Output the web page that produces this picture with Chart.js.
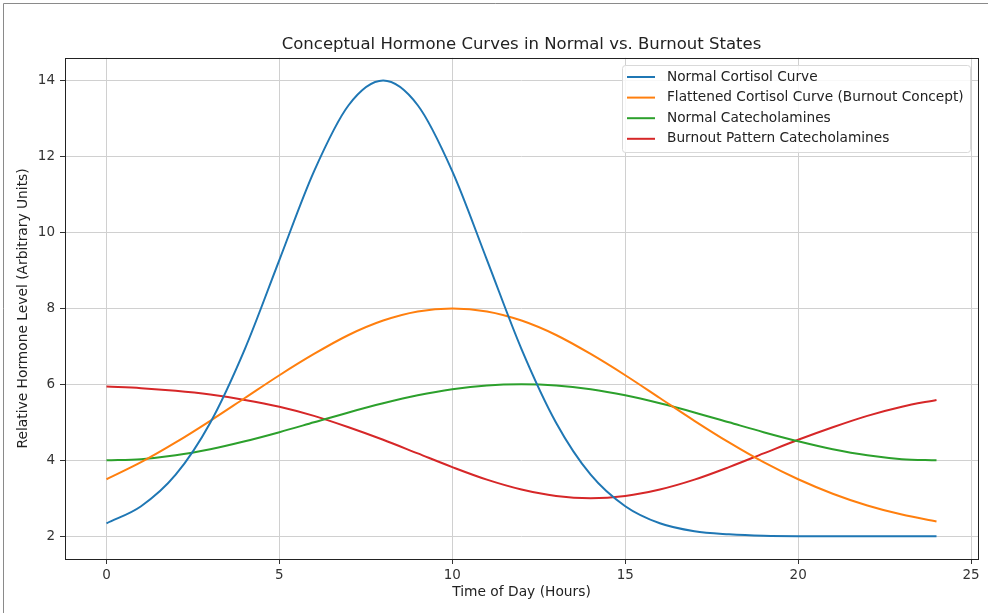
<!DOCTYPE html>
<html>
<head>
<meta charset="utf-8">
<script src="https://cdn.jsdelivr.net/npm/chart.js@4.4.1/dist/chart.umd.min.js"></script>
<style>
  body { margin: 0; background: #fff; }
  #wrap { width: 988px; height: 613px; }
</style>
</head>
<body>
<div id="wrap"><canvas id="myChart1" width="988" height="613"></canvas></div>
<script>
// values, one per hour
var hours = [0,1,2,3,4,5,6,7,8,9,10,11,12,13,14,15,16,17,18,19,20,21,22,23,24];
var normalCortisol = [2.34,2.79,3.62,4.99,6.93,9.28,11.61,13.35,14.0,13.35,11.61,9.28,6.93,4.99,3.62,2.79,2.34,2.13,2.05,2.01,2.0,2.0,2.0,2.0,2.0];
var flattenedCortisol = [3.50,3.95,4.47,5.04,5.64,6.24,6.80,7.30,7.68,7.92,8.0,7.92,7.68,7.30,6.80,6.24,5.64,5.04,4.47,3.95,3.50,3.12,2.81,2.57,2.39];
var normalCatecholamines = [4.0,4.03,4.13,4.29,4.50,4.74,5.0,5.26,5.50,5.71,5.87,5.97,6.0,5.97,5.87,5.71,5.50,5.26,5.0,4.74,4.50,4.29,4.13,4.03,4.0];
var burnoutCatecholamines = [5.94,5.90,5.83,5.73,5.59,5.41,5.17,4.87,4.54,4.18,3.82,3.49,3.23,3.06,3.0,3.06,3.23,3.49,3.82,4.18,4.54,4.87,5.17,5.41,5.59];
var seriesLabels = ["Normal Cortisol Curve", "Flattened Cortisol Curve (Burnout Concept)", "Normal Catecholamines", "Burnout Pattern Catecholamines"];
var xTicks = [0,5,10,15,20,25];
var yTicks = [2,4,6,8,10,12,14];

var colors = ['#1f77b4', '#ff7f0e', '#2ca02c', '#d62728'];
var font = "'DejaVu Sans', sans-serif";

function toPoints(vals) {
  return vals.map(function (v, i) { return {x: hours[i], y: v}; });
}

var series = [normalCortisol, flattenedCortisol, normalCatecholamines, burnoutCatecholamines];
var datasets = series.map(function (vals, i) {
  return {
    label: seriesLabels[i],
    data: toPoints(vals),
    borderColor: colors[i],
    backgroundColor: colors[i],
    borderWidth: 2,
    pointRadius: 0,
    cubicInterpolationMode: 'monotone',
    fill: false
  };
});

// outer frame, box around the axes and the legend box
var framePlugin = {
  id: 'frame',
  beforeDraw: function (chart) {
    var c = chart.ctx;
    c.save();
    c.fillStyle = '#fff';
    c.fillRect(0, 0, chart.width, chart.height);
    c.strokeStyle = '#8a8a8a';
    c.lineWidth = 1;
    c.beginPath();
    c.moveTo(3.5, chart.height);
    c.lineTo(3.5, 3.5);
    c.lineTo(chart.width, 3.5);
    c.stroke();
    c.restore();
  },
  afterDraw: function (chart) {
    var c = chart.ctx;
    var a = chart.chartArea;
    c.save();
    c.strokeStyle = '#222';
    c.lineWidth = 1;
    c.strokeRect(Math.round(a.left) + 0.5, Math.round(a.top) + 0.5, Math.round(a.right - a.left), Math.round(a.bottom - a.top));

    // legend
    var lx = 622, ly = 65, lw = 348, lh = 87;
    c.fillStyle = 'rgba(255,255,255,0.85)';
    c.strokeStyle = '#d9d9d9';
    c.beginPath();
    c.roundRect(lx + 0.5, ly + 0.5, lw, lh, 3);
    c.fill();
    c.stroke();
    c.font = "13.7px " + font;
    c.textBaseline = 'middle';
    c.textAlign = 'left';
    chart.data.datasets.forEach(function (ds, i) {
      var y = ly + 12 + i * 20.6;
      c.strokeStyle = ds.borderColor;
      c.lineWidth = 2;
      c.beginPath();
      c.moveTo(627, y);
      c.lineTo(655, y);
      c.stroke();
      c.fillStyle = '#222';
      c.fillText(ds.label, 667, y);
    });
    c.restore();
  }
};

var ctx = document.getElementById("myChart1").getContext('2d');
var myChart = new Chart(ctx, {
  type: 'line',
  data: { datasets: datasets },
  options: {
    responsive: false,
    animation: false,
    layout: { padding: { left: 0, right: 10, top: 0, bottom: 0 } },
    plugins: {
      legend: { display: false },
      tooltip: { enabled: false },
      title: {
        display: true,
        text: 'Conceptual Hormone Curves in Normal vs. Burnout States',
        fullSize: false,
        color: '#222',
        font: { family: font, size: 16.5, weight: 'normal' },
        padding: { top: 34.5, bottom: 3.5 }
      }
    },
    scales: {
      x: {
        type: 'linear',
        min: -1.2,
        max: 25.2,
        afterBuildTicks: function (scale) {
          scale.ticks = xTicks.map(function (v) { return {value: v}; });
        },
        afterFit: function (scale) { scale.height = 54; },
        grid: { color: '#d0d0d0', tickColor: '#333', tickLength: 5, lineWidth: 1 },
        border: { display: false },
        ticks: { color: '#333', font: { family: font, size: 13.5 }, padding: 3, maxRotation: 0 },
        title: {
          display: true,
          text: 'Time of Day (Hours)',
          color: '#222',
          font: { family: font, size: 13.8 },
          padding: { top: 0, bottom: 12 }
        }
      },
      y: {
        type: 'linear',
        min: 1.4,
        max: 14.6,
        afterBuildTicks: function (scale) {
          scale.ticks = yTicks.map(function (v) { return {value: v}; });
        },
        afterFit: function (scale) { scale.width = 65; },
        grid: { color: '#d0d0d0', tickColor: '#333', tickLength: 5, lineWidth: 1 },
        border: { display: false },
        ticks: { color: '#333', font: { family: font, size: 13.5 }, padding: 5 },
        title: {
          display: true,
          text: 'Relative Hormone Level (Arbitrary Units)',
          color: '#222',
          font: { family: font, size: 13.8 },
          padding: { top: 15, bottom: 0 }
        }
      }
    }
  },
  plugins: [framePlugin]
});
</script>
</body>
</html>
